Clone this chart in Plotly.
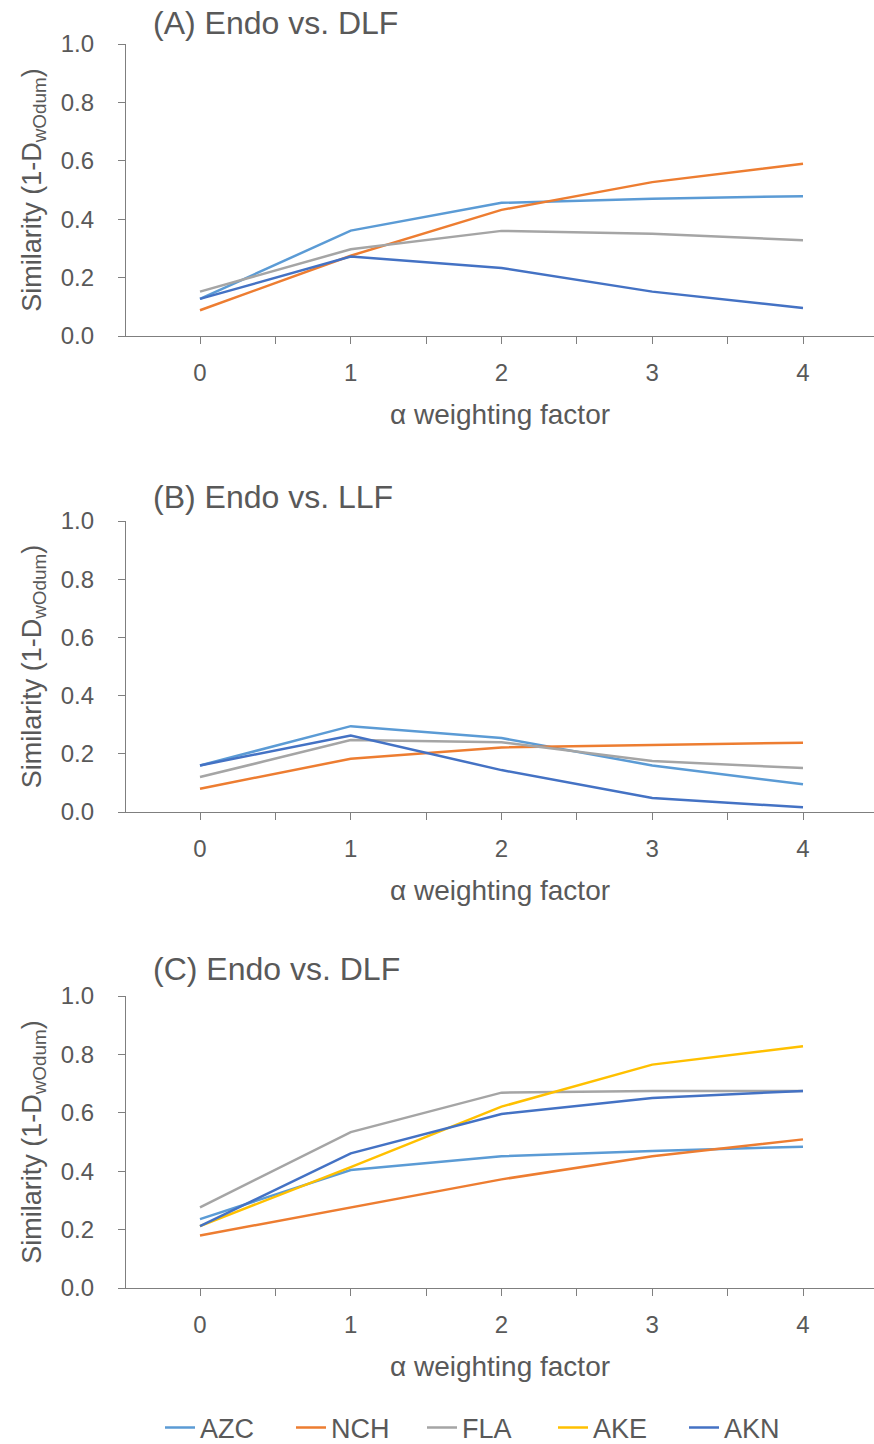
import plotly.graph_objects as go

alpha = [0, 1, 2, 3, 4]
x_labels = ["0", "1", "2", "3", "4"]
panel_titles = ["(A) Endo vs. DLF", "(B) Endo vs. LLF", "(C) Endo vs. DLF"]

# Panel A
a_azc = [0.127, 0.361, 0.456, 0.470, 0.479]
a_nch = [0.088, 0.275, 0.432, 0.527, 0.590]
a_fla = [0.152, 0.297, 0.360, 0.350, 0.328]
a_akn = [0.127, 0.272, 0.233, 0.152, 0.096]

# Panel B
b_azc = [0.160, 0.295, 0.254, 0.160, 0.095]
b_nch = [0.080, 0.183, 0.222, 0.231, 0.238]
b_fla = [0.120, 0.247, 0.240, 0.175, 0.151]
b_akn = [0.160, 0.263, 0.144, 0.048, 0.016]

# Panel C
c_azc = [0.236, 0.404, 0.451, 0.469, 0.484]
c_nch = [0.180, 0.277, 0.372, 0.451, 0.509]
c_fla = [0.276, 0.534, 0.669, 0.675, 0.675]
c_ake = [0.212, 0.414, 0.621, 0.765, 0.828]
c_akn = [0.212, 0.461, 0.596, 0.651, 0.675]

colors = {"AZC": "#5B9BD5", "NCH": "#ED7D31", "FLA": "#A5A5A5",
          "AKE": "#FFC000", "AKN": "#4472C4"}

panels = [
    [("AZC", a_azc), ("NCH", a_nch), ("FLA", a_fla), ("AKN", a_akn)],
    [("AZC", b_azc), ("NCH", b_nch), ("FLA", b_fla), ("AKN", b_akn)],
    [("AZC", c_azc), ("NCH", c_nch), ("FLA", c_fla), ("AKE", c_ake), ("AKN", c_akn)],
]

W, H = 874, 1444
FONT = "Liberation Sans, Arial, Helvetica, sans-serif"
TXT = "#595959"
AX = "#7F7F7F"

# pixel positions of plot areas (top, bottom) and panel titles
ydom_px = [(44, 336), (521, 812), (996, 1288)]
title_y_px = [23, 497, 969]
x_left_px = 126                # y-axis line
x0_px, unit_px = 200, 150.75   # position of alpha=0 and px per unit

def fx(px):
    return px / W

def fy(px):
    return 1 - px / H

x_lo = -0.5 + (x_left_px - (x0_px - 0.5 * unit_px)) / unit_px
x_hi = (W - x0_px) / unit_px

fig = go.Figure()
for i, series in enumerate(panels):
    n = i + 1
    xa = "x" if n == 1 else f"x{n}"
    ya = "y" if n == 1 else f"y{n}"
    for name, vals in series:
        fig.add_trace(go.Scatter(
            x=alpha, y=vals, mode="lines", name=name,
            line=dict(color=colors[name], width=2.5),
            xaxis=xa, yaxis=ya, showlegend=(n == 3),
        ))
    top, bot = ydom_px[i]
    xkey = "xaxis" if n == 1 else f"xaxis{n}"
    ykey = "yaxis" if n == 1 else f"yaxis{n}"
    fig.layout[xkey] = dict(
        domain=[fx(x_left_px), 1], range=[x_lo, x_hi], automargin=False,
        tickvals=alpha, ticktext=x_labels, ticks="outside", ticklen=7,
        tickcolor=AX, showline=True, linecolor=AX, linewidth=1.3,
        showgrid=False, zeroline=False, anchor=ya,
        tickfont=dict(family=FONT, size=24, color=TXT),
        ticklabelstandoff=8,
        minor=dict(tick0=0.5, dtick=1, ticks="outside", ticklen=7, tickcolor=AX, showgrid=False),
        title=dict(text="α weighting factor", font=dict(family=FONT, size=28, color=TXT), standoff=19),
    )
    fig.layout[ykey] = dict(
        domain=[fy(bot), fy(top)], range=[0, 1], automargin=False,
        tickvals=[0, 0.2, 0.4, 0.6, 0.8, 1.0],
        ticktext=["0.0", "0.2", "0.4", "0.6", "0.8", "1.0"],
        ticks="outside", ticklen=7, tickcolor=AX, showline=True, linecolor=AX,
        linewidth=1.3, showgrid=False, zeroline=False, anchor=xa,
        tickfont=dict(family=FONT, size=24, color=TXT), ticklabelstandoff=19,
        title=dict(text="Similarity (1-D<sub>wOdum</sub>)", font=dict(family=FONT, size=27, color=TXT), standoff=11),
    )
    fig.add_annotation(text=panel_titles[i], xref="paper", yref="paper",
                       x=fx(151), y=fy(title_y_px[i]), xanchor="left", yanchor="middle",
                       showarrow=False, font=dict(family=FONT, size=32, color=TXT))

fig.update_layout(
    width=W, height=H, margin=dict(l=0, r=0, t=0, b=0, autoexpand=False),
    paper_bgcolor="white", plot_bgcolor="white",
    legend=dict(orientation="h", xref="container", yref="container",
                x=fx(160), xanchor="left", y=fy(1428), yanchor="middle",
                font=dict(family=FONT, size=27, color=TXT), itemwidth=30,
                entrywidth=86, entrywidthmode="pixels", tracegroupgap=0),
)

fig.write_html("out.html")
